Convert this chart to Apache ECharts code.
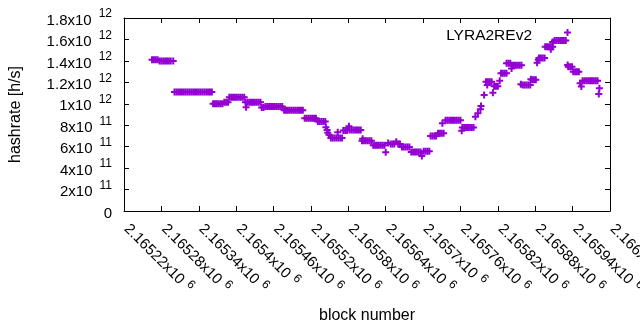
<!DOCTYPE html>
<html><head><meta charset="utf-8">
<script src="https://cdn.jsdelivr.net/npm/echarts@6/dist/echarts.min.js"></script>
<style>html,body{margin:0;padding:0;background:#fff}#c{width:640px;height:330px}</style>
</head><body><div id="c"></div>
<script>
const seriesName = 'LYRA2REv2';
const xAxisTitle = 'block number';
const yAxisTitle = 'hashrate [h/s]';
const xMin = 2165220, xMax = 2166000, xStep = 60;
const yMin = 0, yMax = 1.8e12, yStep = 2e11;
const xTickLabels = ['2.16522','2.16528','2.16534','2.1654','2.16546','2.16552','2.16558','2.16564','2.1657','2.16576','2.16582','2.16588','2.16594','2.166'];
const xTickExp = '6';
const yTickLabels = [['0',''],['2','11'],['4','11'],['6','11'],['8','11'],['1','12'],['1.2','12'],['1.4','12'],['1.6','12'],['1.8','12']];
// [block, hashrate in h/s]
const points = [
[2165265,1.41e12],[2165268,1.41e12],[2165271,1.41e12],[2165274,1.41e12],
[2165277,1.40e12],[2165280,1.40e12],[2165283,1.40e12],[2165286,1.40e12],[2165289,1.40e12],[2165292,1.40e12],[2165295,1.40e12],[2165299,1.40e12],
[2165301,1.11e12],[2165304,1.11e12],[2165307,1.11e12],[2165310,1.11e12],[2165313,1.11e12],[2165316,1.11e12],[2165319,1.11e12],[2165322,1.11e12],[2165325,1.11e12],[2165328,1.11e12],[2165331,1.11e12],[2165334,1.11e12],[2165337,1.11e12],[2165340,1.11e12],[2165343,1.11e12],[2165346,1.11e12],[2165349,1.11e12],[2165352,1.11e12],[2165355,1.11e12],[2165358,1.11e12],[2165361,1.11e12],
[2165363,1.0e12],[2165366,1.0e12],[2165369,1.0e12],[2165372,1.0e12],[2165375,1.0e12],[2165378,1.0e12],
[2165381,1.015e12],[2165384,1.015e12],[2165387,1.015e12],
[2165389,1.06e12],[2165392,1.06e12],[2165395,1.06e12],[2165398,1.06e12],[2165401,1.06e12],[2165404,1.06e12],[2165407,1.06e12],[2165410,1.06e12],[2165413,1.06e12],
[2165415,1.015e12],[2165416,0.967e12],[2165418,1.015e12],[2165421,1.015e12],[2165424,1.015e12],[2165427,1.015e12],[2165430,1.015e12],[2165433,1.015e12],[2165436,1.015e12],[2165439,1.015e12],
[2165441,0.965e12],[2165444,0.965e12],
[2165447,0.975e12],[2165450,0.975e12],[2165453,0.975e12],[2165456,0.975e12],[2165459,0.975e12],[2165462,0.975e12],[2165465,0.975e12],[2165468,0.975e12],[2165471,0.975e12],[2165474,0.975e12],
[2165477,0.94e12],[2165480,0.94e12],[2165483,0.94e12],[2165486,0.94e12],[2165489,0.94e12],[2165492,0.94e12],[2165495,0.94e12],[2165498,0.94e12],[2165501,0.94e12],[2165504,0.94e12],[2165507,0.94e12],
[2165510,0.865e12],[2165513,0.865e12],[2165516,0.865e12],[2165519,0.865e12],[2165522,0.865e12],[2165525,0.865e12],[2165528,0.865e12],
[2165531,0.835e12],[2165534,0.835e12],[2165537,0.835e12],[2165540,0.835e12],[2165543,0.835e12],
[2165544,0.78e12],[2165546,0.755e12],[2165547,0.73e12],[2165549,0.71e12],
[2165552,0.68e12],[2165555,0.68e12],[2165558,0.68e12],[2165561,0.68e12],[2165563,0.734e12],[2165564,0.68e12],[2165567,0.68e12],[2165570,0.68e12],
[2165572,0.75e12],[2165575,0.75e12],[2165578,0.75e12],[2165581,0.79e12],
[2165582,0.755e12],[2165585,0.755e12],[2165588,0.755e12],[2165591,0.755e12],[2165594,0.755e12],[2165597,0.755e12],[2165600,0.755e12],
[2165602,0.655e12],[2165603,0.675e12],[2165605,0.655e12],[2165608,0.655e12],[2165611,0.655e12],[2165614,0.655e12],[2165617,0.655e12],
[2165620,0.613e12],[2165623,0.613e12],[2165626,0.613e12],[2165629,0.613e12],[2165632,0.613e12],[2165635,0.613e12],[2165638,0.613e12],
[2165640,0.547e12],[2165644,0.634e12],
[2165648,0.625e12],[2165651,0.625e12],[2165654,0.625e12],[2165657,0.646e12],[2165660,0.625e12],[2165663,0.625e12],
[2165666,0.597e12],[2165669,0.597e12],[2165672,0.597e12],[2165675,0.597e12],[2165678,0.597e12],
[2165681,0.55e12],[2165684,0.55e12],[2165687,0.55e12],[2165690,0.55e12],[2165693,0.55e12],[2165696,0.55e12],
[2165698,0.513e12],
[2165701,0.557e12],[2165704,0.557e12],[2165707,0.557e12],[2165710,0.557e12],
[2165712,0.70e12],[2165715,0.70e12],[2165718,0.70e12],[2165721,0.70e12],
[2165724,0.725e12],[2165727,0.725e12],[2165730,0.725e12],[2165731,0.818e12],[2165733,0.725e12],
[2165736,0.846e12],[2165739,0.846e12],[2165742,0.846e12],[2165745,0.846e12],[2165748,0.846e12],[2165751,0.846e12],[2165754,0.846e12],[2165757,0.846e12],[2165760,0.846e12],
[2165762,0.749e12],
[2165763,0.779e12],[2165766,0.779e12],[2165769,0.779e12],[2165772,0.779e12],[2165775,0.779e12],[2165778,0.779e12],[2165781,0.779e12],
[2165784,0.879e12],[2165788,0.911e12],[2165792,0.948e12],[2165793,0.979e12],[2165798,1.082e12],
[2165801,1.206e12],[2165803,1.175e12],[2165804,1.206e12],[2165807,1.206e12],[2165810,1.206e12],
[2165812,1.103e12],
[2165814,1.163e12],[2165817,1.163e12],[2165820,1.163e12],
[2165823,1.215e12],
[2165825,1.284e12],[2165828,1.284e12],[2165831,1.284e12],[2165834,1.284e12],
[2165834,1.377e12],[2165837,1.377e12],[2165840,1.377e12],
[2165842,1.33e12],[2165843,1.359e12],[2165846,1.359e12],[2165849,1.359e12],[2165852,1.359e12],[2165855,1.359e12],[2165858,1.359e12],
[2165857,1.182e12],
[2165860,1.175e12],[2165863,1.175e12],[2165866,1.175e12],[2165869,1.175e12],[2165872,1.175e12],
[2165873,1.228e12],[2165875,1.225e12],[2165878,1.225e12],[2165881,1.225e12],
[2165883,1.383e12],[2165885,1.41e12],
[2165886,1.427e12],[2165889,1.427e12],[2165892,1.427e12],[2165895,1.427e12],
[2165896,1.532e12],[2165899,1.532e12],[2165902,1.532e12],[2165905,1.508e12],[2165905,1.532e12],[2165908,1.532e12],
[2165908,1.576e12],[2165911,1.59e12],[2165914,1.59e12],[2165917,1.59e12],[2165920,1.59e12],[2165923,1.59e12],[2165926,1.59e12],[2165929,1.59e12],
[2165932,1.362e12],[2165933,1.346e12],[2165936,1.346e12],[2165939,1.346e12],
[2165941,1.299e12],[2165944,1.299e12],[2165947,1.299e12],[2165950,1.299e12],
[2165952,1.191e12],[2165954,1.16e12],
[2165956,1.215e12],[2165959,1.215e12],[2165962,1.215e12],[2165965,1.215e12],[2165968,1.215e12],[2165971,1.215e12],[2165974,1.215e12],[2165977,1.215e12],[2165980,1.215e12],
[2165982,1.091e12],[2165983,1.144e12]
];

const COLOR = '#9400d3';
const FONT = '"Liberation Sans", Arial, sans-serif';
const plusSymbol = 'path://M0,5L10,5M5,0L5,10';
const richY = {
  m: {fontSize: 15, fontFamily: FONT, color: '#000', lineHeight: 20, verticalAlign: 'bottom'},
  s: {fontSize: 12, fontFamily: FONT, color: '#000', lineHeight: 12, verticalAlign: 'top', padding: [0, 0, 0, 7]}
};
const richX = {
  m: {fontSize: 15, fontFamily: FONT, color: '#000', lineHeight: 18, verticalAlign: 'bottom', padding: [0, 0, 0, 5]},
  s: {fontSize: 12, fontFamily: FONT, color: '#000', lineHeight: 14, verticalAlign: 'top', padding: [0, 0, 0, 5]}
};
const chart = echarts.init(document.getElementById('c'), null, {renderer: 'canvas'});
const baseX = {
  type: 'value', min: xMin, max: xMax, interval: xStep,
  axisLine: {show: true, onZero: false, lineStyle: {color: '#000', width: 1}},
  axisTick: {show: true, inside: true, length: 5, lineStyle: {color: '#000'}},
  splitLine: {show: false}
};
const baseY = {
  type: 'value', min: yMin, max: yMax, interval: yStep,
  axisLine: {show: true, onZero: false, lineStyle: {color: '#000', width: 1}},
  axisTick: {show: true, inside: true, length: 5, lineStyle: {color: '#000'}},
  splitLine: {show: false}
};
chart.setOption({
  animation: false,
  backgroundColor: '#fff',
  grid: {left: 124, right: 30, top: 18, bottom: 119, containLabel: false, outerBoundsMode: 'none'},
  legend: {
    show: true, right: 69, top: 23, align: 'right', itemWidth: 7, itemHeight: 7,
    icon: 'rect',
    itemStyle: {color: COLOR, opacity: 0, borderWidth: 0},
    textStyle: {fontSize: 15.5, fontFamily: FONT, color: '#000', padding: [0, 22, 0, 0]},
    data: [seriesName]
  },
  graphic: [{
    type: 'group', x: 567.5, y: 32.5, silent: true,
    children: [
      {type: 'line', shape: {x1: -3.5, y1: 0, x2: 3.5, y2: 0}, style: {stroke: COLOR, lineWidth: 2}},
      {type: 'line', shape: {x1: 0, y1: -3.5, x2: 0, y2: 3.5}, style: {stroke: COLOR, lineWidth: 2}}
    ]
  }],
  xAxis: [
    Object.assign({}, baseX, {
      position: 'bottom', name: xAxisTitle, nameLocation: 'middle', nameGap: 97,
      nameTextStyle: {fontSize: 16, fontFamily: FONT, color: '#000'},
      axisLabel: {
        show: true, rotate: -45, margin: 11, showMinLabel: true, showMaxLabel: true, hideOverlap: false,
        formatter: function (v) {
          const i = Math.round((v - xMin) / xStep);
          return '{m|' + xTickLabels[i] + 'x10}{s|' + xTickExp + '}';
        },
        rich: richX
      }
    }),
    Object.assign({}, baseX, {position: 'top', axisLabel: {show: false}})
  ],
  yAxis: [
    Object.assign({}, baseY, {
      position: 'left', name: yAxisTitle, nameLocation: 'middle', nameGap: 100,
      nameTextStyle: {fontSize: 16, fontFamily: FONT, color: '#000'},
      axisLabel: {
        show: true, margin: 12, showMinLabel: true, showMaxLabel: true, hideOverlap: false,
        formatter: function (v) {
          const i = Math.round((v - yMin) / yStep);
          const t = yTickLabels[i];
          if (!t[1]) return '{m|' + t[0] + '}';
          return '{m|' + t[0] + 'x10}{s|' + t[1] + '}';
        },
        rich: richY
      }
    }),
    Object.assign({}, baseY, {position: 'right', axisLabel: {show: false}})
  ],
  series: [{
    name: seriesName, type: 'scatter', xAxisIndex: 0, yAxisIndex: 0,
    symbol: plusSymbol, symbolSize: 7,
    itemStyle: {color: COLOR, borderColor: COLOR, borderWidth: 2, opacity: 1},
    emphasis: {disabled: true},
    data: points
  }]
});
</script>
</body></html>
